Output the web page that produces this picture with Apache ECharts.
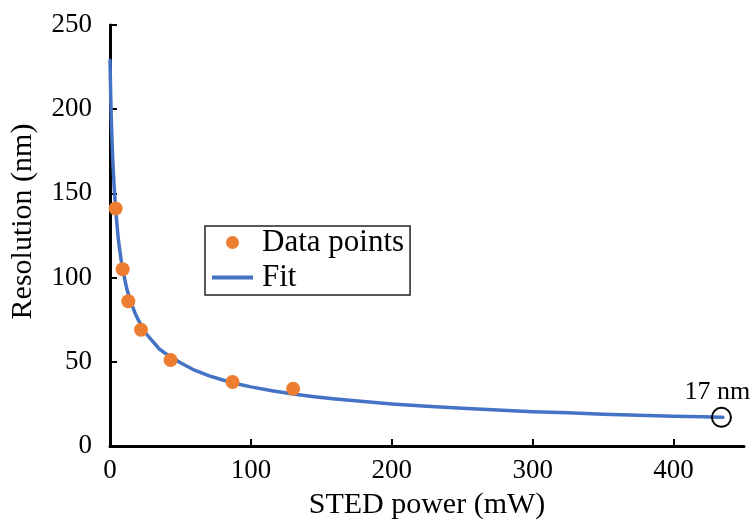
<!DOCTYPE html>
<html>
<head>
<meta charset="utf-8">
<script src="https://cdn.jsdelivr.net/npm/echarts@6/dist/echarts.min.js"></script>
<style>html,body{margin:0;padding:0;background:#fff;}#c{width:755px;height:522px;}</style>
</head>
<body>
<div id="c"></div>
<script>
// Measured data points (STED power mW, resolution nm)
var dataX = [4, 9, 13, 22, 43, 87, 130];
var dataY = [141, 105, 86, 69, 51, 38, 34];
// Fit curve
var fitX = [0, 0.5, 1, 1.5, 2, 3, 4, 5, 6, 7, 8, 10, 12, 15, 18, 20, 25, 30, 35, 40, 50, 60, 70, 80, 90, 100, 115, 130, 145, 160, 180, 200, 225, 250, 275, 300, 325, 350, 375, 400, 420, 435];
var fitY = [229, 208, 192, 180, 169, 153, 141, 131, 122, 116, 110, 101, 93, 85, 78.5, 75, 67.4, 62.4, 57.6, 54.6, 49.4, 45, 41.8, 39.2, 37, 35.1, 32.8, 30.9, 29.3, 27.9, 26.4, 25, 23.6, 22.4, 21.4, 20.4, 19.7, 18.9, 18.3, 17.7, 17.3, 17];
// Annotated end point
var annotX = [434];
var annotY = [17];
var annotLabel = '17 nm';
var xTicks = [0, 100, 200, 300, 400];
var yTicks = [0, 50, 100, 150, 200, 250];

var FONT = '"Liberation Serif", "Times New Roman", serif';
function zip(a, b) { return a.map(function (v, i) { return [v, b[i]]; }); }

var chart = echarts.init(document.getElementById('c'), null, {renderer: 'canvas'});
chart.setOption({
  animation: false,
  backgroundColor: '#ffffff',
  textStyle: {fontFamily: FONT, color: '#000'},
  grid: {left: 110, right: 11, top: 25, bottom: 76, containLabel: false, outerBoundsMode: 'none'},
  xAxis: {
    type: 'value', min: 0, max: 450, interval: 100,
    name: 'STED power (mW)', nameLocation: 'middle', nameGap: 44,
    nameTextStyle: {fontFamily: FONT, fontSize: 30, color: '#000'},
    axisLine: {show: true, lineStyle: {color: '#000', width: 3}},
    axisTick: {show: true, inside: true, length: 7, lineStyle: {color: '#000', width: 2}, customValues: xTicks},
    axisLabel: {fontFamily: FONT, fontSize: 27, color: '#000', margin: 11, customValues: xTicks},
    splitLine: {show: false}
  },
  yAxis: {
    type: 'value', min: 0, max: 250, interval: 50,
    name: 'Resolution (nm)', nameLocation: 'middle', nameGap: 72, nameRotate: 90,
    nameTextStyle: {fontFamily: FONT, fontSize: 30, color: '#000', padding: [0, 0, 0, 28]},
    axisLine: {show: true, lineStyle: {color: '#000', width: 3}},
    axisTick: {show: true, inside: true, length: 7, lineStyle: {color: '#000', width: 2}, customValues: yTicks},
    axisLabel: {fontFamily: FONT, fontSize: 27, color: '#000', margin: 18, customValues: yTicks},
    splitLine: {show: false}
  },
  legend: {
    orient: 'vertical', left: 205, top: 226,
    padding: [1, 6, 2, 7],
    borderColor: '#222', borderWidth: 1.5,
    itemWidth: 41, itemHeight: 13, itemGap: 4,
    textStyle: {fontFamily: FONT, fontSize: 31, color: '#000', lineHeight: 31, padding: [0, 0, 0, 4]},
    data: [
      {name: 'Data points', icon: 'circle'},
      {name: 'Fit', icon: 'path://M0,0L41,0L41,4L0,4Z', itemStyle: {color: '#4472C4'}}
    ]
  },
  series: [
    {
      name: 'Fit', type: 'line', data: zip(fitX, fitY),
      showSymbol: false, smooth: false,
      lineStyle: {color: '#4472C4', width: 3.5, join: 'round', cap: 'round'}, itemStyle: {color: '#4472C4'}, z: 2
    },
    {
      name: 'Data points', type: 'scatter', data: zip(dataX, dataY),
      symbol: 'circle', symbolSize: 14, itemStyle: {color: '#ED7D31', opacity: 1}, z: 3
    },
    {
      name: 'annot', type: 'scatter', data: zip(annotX, annotY),
      symbol: 'circle', symbolSize: 19,
      itemStyle: {color: 'rgba(0,0,0,0)', borderColor: '#000', borderWidth: 2, opacity: 1},
      label: {show: true, position: 'top', distance: 2, offset: [-4, 0], formatter: annotLabel,
        fontFamily: FONT, fontSize: 26, color: '#000'},
      z: 4, silent: true
    }
  ]
});
</script>
</body>
</html>
